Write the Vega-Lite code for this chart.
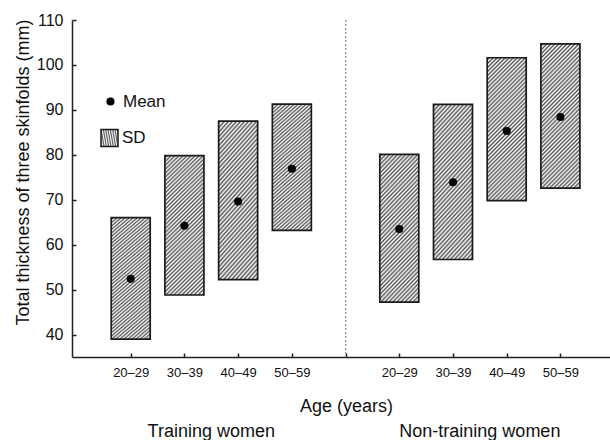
{
  "$schema": "https://vega.github.io/schema/vega-lite/v6.json",
  "width": 538,
  "height": 337,
  "autosize": {"type": "none"},
  "padding": {"left": 72, "top": 20, "right": 0, "bottom": 83},
  "config": {
    "font": "Liberation Sans",
    "view": {"stroke": null},
    "axis": {"grid": false, "domainColor": "#222", "domainWidth": 1.5, "tickColor": "#222", "tickWidth": 1.5, "tickSize": -4, "labelColor": "#111", "titleColor": "#111", "titleFontWeight": "normal", "titleFontSize": 18, "labelOverlap": false},
    "axisX": {"labelFontSize": 13, "labelPadding": 13, "titleBaseline": "alphabetic", "titleY": 54, "titleX": 274},
    "axisY": {"labelFontSize": 16, "labelPadding": 13, "titleAngle": 270, "titleBaseline": "alphabetic", "titleX": -44, "titleY": 152, "titleAlign": "center"}
  },
  "data": {"values": [
    {"grp": "Training women", "age": "20–29", "pos": 1, "lo": 39.0, "hi": 66.0, "mean": 52.4},
    {"grp": "Training women", "age": "30–39", "pos": 2, "lo": 48.8, "hi": 79.8, "mean": 64.2},
    {"grp": "Training women", "age": "40–49", "pos": 3, "lo": 52.2, "hi": 87.5, "mean": 69.6},
    {"grp": "Training women", "age": "50–59", "pos": 4, "lo": 63.2, "hi": 91.3, "mean": 76.9},
    {"grp": "Non-training women", "age": "20–29", "pos": 6, "lo": 47.2, "hi": 80.1, "mean": 63.5},
    {"grp": "Non-training women", "age": "30–39", "pos": 7, "lo": 56.7, "hi": 91.2, "mean": 73.9},
    {"grp": "Non-training women", "age": "40–49", "pos": 8, "lo": 69.8, "hi": 101.6, "mean": 85.3},
    {"grp": "Non-training women", "age": "50–59", "pos": 9, "lo": 72.6, "hi": 104.7, "mean": 88.4}
  ]},
  "layer": [
    {
      "mark": {"type": "rule", "color": "#999", "strokeDash": [2, 2], "strokeWidth": 1},
      "encoding": {"x": {"datum": 5, "type": "quantitative"}}
    },
    {
      "mark": {"type": "bar", "size": 39, "stroke": "#1a1a1a", "strokeWidth": 1.7,
        "fill": {"gradient": "linear", "x1": 0, "y1": 0, "x2": 0.3255, "y2": 1.1852, "stops": [
          {"offset": 0, "color": "#fff"}, {"offset": 0.0111, "color": "#555"}, {"offset": 0.0222, "color": "#fff"}, {"offset": 0.0333, "color": "#555"},
          {"offset": 0.0444, "color": "#fff"}, {"offset": 0.0556, "color": "#555"}, {"offset": 0.0667, "color": "#fff"}, {"offset": 0.0778, "color": "#555"},
          {"offset": 0.0889, "color": "#fff"}, {"offset": 0.1, "color": "#555"}, {"offset": 0.1111, "color": "#fff"}, {"offset": 0.1222, "color": "#555"},
          {"offset": 0.1333, "color": "#fff"}, {"offset": 0.1444, "color": "#555"}, {"offset": 0.1556, "color": "#fff"}, {"offset": 0.1667, "color": "#555"},
          {"offset": 0.1778, "color": "#fff"}, {"offset": 0.1889, "color": "#555"}, {"offset": 0.2, "color": "#fff"}, {"offset": 0.2111, "color": "#555"},
          {"offset": 0.2222, "color": "#fff"}, {"offset": 0.2333, "color": "#555"}, {"offset": 0.2444, "color": "#fff"}, {"offset": 0.2556, "color": "#555"},
          {"offset": 0.2667, "color": "#fff"}, {"offset": 0.2778, "color": "#555"}, {"offset": 0.2889, "color": "#fff"}, {"offset": 0.3, "color": "#555"},
          {"offset": 0.3111, "color": "#fff"}, {"offset": 0.3222, "color": "#555"}, {"offset": 0.3333, "color": "#fff"}, {"offset": 0.3444, "color": "#555"},
          {"offset": 0.3556, "color": "#fff"}, {"offset": 0.3667, "color": "#555"}, {"offset": 0.3778, "color": "#fff"}, {"offset": 0.3889, "color": "#555"},
          {"offset": 0.4, "color": "#fff"}, {"offset": 0.4111, "color": "#555"}, {"offset": 0.4222, "color": "#fff"}, {"offset": 0.4333, "color": "#555"},
          {"offset": 0.4444, "color": "#fff"}, {"offset": 0.4556, "color": "#555"}, {"offset": 0.4667, "color": "#fff"}, {"offset": 0.4778, "color": "#555"},
          {"offset": 0.4889, "color": "#fff"}, {"offset": 0.5, "color": "#555"}, {"offset": 0.5111, "color": "#fff"}, {"offset": 0.5222, "color": "#555"},
          {"offset": 0.5333, "color": "#fff"}, {"offset": 0.5444, "color": "#555"}, {"offset": 0.5556, "color": "#fff"}, {"offset": 0.5667, "color": "#555"},
          {"offset": 0.5778, "color": "#fff"}, {"offset": 0.5889, "color": "#555"}, {"offset": 0.6, "color": "#fff"}, {"offset": 0.6111, "color": "#555"},
          {"offset": 0.6222, "color": "#fff"}, {"offset": 0.6333, "color": "#555"}, {"offset": 0.6444, "color": "#fff"}, {"offset": 0.6556, "color": "#555"},
          {"offset": 0.6667, "color": "#fff"}, {"offset": 0.6778, "color": "#555"}, {"offset": 0.6889, "color": "#fff"}, {"offset": 0.7, "color": "#555"},
          {"offset": 0.7111, "color": "#fff"}, {"offset": 0.7222, "color": "#555"}, {"offset": 0.7333, "color": "#fff"}, {"offset": 0.7444, "color": "#555"},
          {"offset": 0.7556, "color": "#fff"}, {"offset": 0.7667, "color": "#555"}, {"offset": 0.7778, "color": "#fff"}, {"offset": 0.7889, "color": "#555"},
          {"offset": 0.8, "color": "#fff"}, {"offset": 0.8111, "color": "#555"}, {"offset": 0.8222, "color": "#fff"}, {"offset": 0.8333, "color": "#555"},
          {"offset": 0.8444, "color": "#fff"}, {"offset": 0.8556, "color": "#555"}, {"offset": 0.8667, "color": "#fff"}, {"offset": 0.8778, "color": "#555"},
          {"offset": 0.8889, "color": "#fff"}, {"offset": 0.9, "color": "#555"}, {"offset": 0.9111, "color": "#fff"}, {"offset": 0.9222, "color": "#555"},
          {"offset": 0.9333, "color": "#fff"}, {"offset": 0.9444, "color": "#555"}, {"offset": 0.9556, "color": "#fff"}, {"offset": 0.9667, "color": "#555"},
          {"offset": 0.9778, "color": "#fff"}, {"offset": 0.9889, "color": "#555"}, {"offset": 1, "color": "#fff"}
        ]}},
      "encoding": {
        "x": {"field": "pos", "type": "quantitative", "title": "Age (years)",
          "scale": {"domain": [0, 9.83], "nice": false, "zero": false},
          "axis": {"values": [1, 2, 3, 4, 5, 6, 7, 8, 9],
            "labelExpr": "datum.value == 1 || datum.value == 6 ? '20–29' : datum.value == 2 || datum.value == 7 ? '30–39' : datum.value == 3 || datum.value == 8 ? '40–49' : datum.value == 4 || datum.value == 9 ? '50–59' : ''"}},
        "y": {"field": "lo", "type": "quantitative", "title": "Total thickness of three skinfolds (mm)",
          "scale": {"domain": [35, 110], "nice": false, "zero": false},
          "axis": {"values": [40, 50, 60, 70, 80, 90, 100, 110]}},
        "y2": {"field": "hi"},
        "opacity": {"datum": "SD", "type": "nominal", "scale": {"range": [1]},
          "legend": {"title": null, "orient": "none", "legendX": 28, "legendY": 108.5, "padding": 0,
            "symbolType": "square", "symbolSize": 289, "labelFontSize": 17, "labelOffset": 3, "labelColor": "#111",
            "encode": {"symbols": {"update": {
              "fill": {"value": {"gradient": "linear", "x1": 0, "y1": 0, "x2": 1, "y2": 1, "stops": [
                {"offset": 0, "color": "#fff"}, {"offset": 0.0625, "color": "#555"}, {"offset": 0.125, "color": "#fff"}, {"offset": 0.1875, "color": "#555"},
                {"offset": 0.25, "color": "#fff"}, {"offset": 0.3125, "color": "#555"}, {"offset": 0.375, "color": "#fff"}, {"offset": 0.4375, "color": "#555"},
                {"offset": 0.5, "color": "#fff"}, {"offset": 0.5625, "color": "#555"}, {"offset": 0.625, "color": "#fff"}, {"offset": 0.6875, "color": "#555"},
                {"offset": 0.75, "color": "#fff"}, {"offset": 0.8125, "color": "#555"}, {"offset": 0.875, "color": "#fff"}, {"offset": 0.9375, "color": "#555"},
                {"offset": 1, "color": "#fff"}]}},
              "stroke": {"value": "#1a1a1a"}, "strokeWidth": {"value": 1.7}, "opacity": {"value": 1}, "fillOpacity": {"value": 1}}}}}}
      }
    },
    {
      "mark": {"type": "point", "filled": true, "color": "black", "size": 66, "opacity": 1},
      "encoding": {
        "x": {"field": "pos", "type": "quantitative"},
        "y": {"field": "mean", "type": "quantitative"},
        "shape": {"datum": "Mean", "type": "nominal", "scale": {"range": ["circle"]},
          "legend": {"title": null, "orient": "none", "legendX": 30, "legendY": 73, "padding": 0,
            "symbolSize": 66, "symbolFillColor": "black", "symbolStrokeColor": "black", "symbolOpacity": 1,
            "labelFontSize": 17, "labelOffset": 4, "labelColor": "#111"}}
      }
    },
    {
      "transform": [{"aggregate": [{"op": "mean", "field": "pos", "as": "pos"}], "groupby": ["grp"]}],
      "mark": {"type": "text", "fontSize": 18, "color": "#111", "baseline": "alphabetic", "align": "center"},
      "encoding": {
        "x": {"field": "pos", "type": "quantitative"},
        "y": {"datum": 17.3, "type": "quantitative"},
        "text": {"field": "grp"}
      }
    }
  ]
}
